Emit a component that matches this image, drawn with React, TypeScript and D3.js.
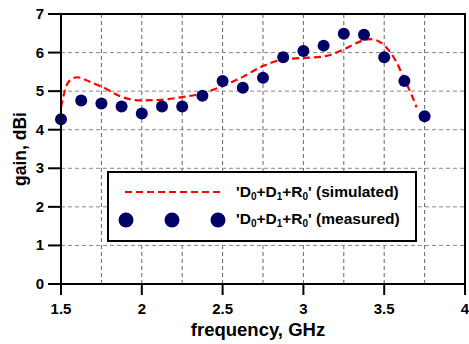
import React from 'react'
import * as d3 from 'd3'

// measured gain, every 0.125 GHz
const measFreq = [1.5, 1.625, 1.75, 1.875, 2.0, 2.125, 2.25, 2.375, 2.5, 2.625, 2.75, 2.875, 3.0, 3.125, 3.25, 3.375, 3.5, 3.625, 3.75]
const measGain = [4.27, 4.76, 4.68, 4.6, 4.42, 4.6, 4.6, 4.88, 5.26, 5.09, 5.35, 5.88, 6.04, 6.18, 6.49, 6.46, 5.88, 5.26, 4.35]

// simulated gain
const simFreq = [1.5, 1.53, 1.56, 1.6, 1.68, 1.76, 1.87, 1.99, 2.1, 2.24, 2.36, 2.5, 2.625, 2.75, 2.85, 2.95, 3.05, 3.13, 3.25, 3.33, 3.41, 3.47, 3.53, 3.58, 3.625, 3.67, 3.7]
const simGain = [4.58, 5.1, 5.3, 5.36, 5.24, 5.1, 4.86, 4.76, 4.77, 4.84, 4.93, 5.13, 5.37, 5.65, 5.8, 5.85, 5.87, 5.9, 6.08, 6.25, 6.35, 6.28, 6.05, 5.72, 5.3, 4.9, 4.58]

const xTicks = [1.5, 2, 2.5, 3, 3.5, 4]
const yTicks = [0, 1, 2, 3, 4, 5, 6, 7]
const xGrid = [1.75, 2, 2.25, 2.5, 2.75, 3, 3.25, 3.5, 3.75]
const yGrid = [1, 2, 3, 4, 5, 6]

const W = 469
const H = 344
const margin = { top: 14, right: 4, bottom: 60, left: 61 }
const font = 'Arial, "Liberation Sans", sans-serif'
const navy = '#000066'

function LegendText({ x, y, tail }: { x: number; y: number; tail: string }) {
  return (
    <text x={x} y={y} fontFamily={font} fontWeight="bold" fontSize={15.5} fill="#000">
      'D<tspan fontSize={10} dy={3}>0</tspan>
      <tspan dy={-3}>+D</tspan>
      <tspan fontSize={10} dy={3}>1</tspan>
      <tspan dy={-3}>+R</tspan>
      <tspan fontSize={10} dy={3}>0</tspan>
      <tspan dy={-3}>' {tail}</tspan>
    </text>
  )
}

export default function App() {
  const x = d3.scaleLinear().domain([1.5, 4]).range([margin.left, W - margin.right])
  const y = d3.scaleLinear().domain([0, 7]).range([H - margin.bottom, margin.top])

  const line = d3.line<number>()
    .x((_, i) => x(simFreq[i]))
    .y(d => y(d))
    .curve(d3.curveMonotoneX)

  const x0 = x(1.5)
  const x1 = x(4)
  const y0 = y(0)
  const y1 = y(7)

  return (
    <svg width={W} height={H} style={{ position: 'absolute', left: 0, top: 0, background: '#fff' }}>
      {/* grid */}
      {xGrid.map(v => (
        <line key={'gx' + v} x1={x(v)} x2={x(v)} y1={y1} y2={y0} stroke="#666" strokeWidth={1} strokeDasharray="4,3" />
      ))}
      {yGrid.map(v => (
        <line key={'gy' + v} x1={x0} x2={x1} y1={y(v)} y2={y(v)} stroke="#888" strokeWidth={1} strokeDasharray="4,3" />
      ))}

      {/* simulated curve */}
      <path d={line(simGain) || ''} fill="none" stroke="#ff0000" strokeWidth={2.2} strokeDasharray="7,4" />

      {/* measured points */}
      {measGain.map((g, i) => (
        <circle key={'m' + i} cx={x(measFreq[i])} cy={y(g)} r={6} fill={navy} />
      ))}

      {/* frame */}
      <rect x={x0} y={y1} width={x1 - x0} height={y0 - y1} fill="none" stroke="#000" strokeWidth={2} />

      {/* y ticks */}
      {yTicks.map(v => (
        <g key={'yt' + v}>
          <line x1={x0 - 13} x2={x0} y1={y(v)} y2={y(v)} stroke="#000" strokeWidth={2} />
          <text x={x0 - 17} y={y(v) + 5} textAnchor="end" fontFamily={font} fontWeight="bold" fontSize={15}>{v}</text>
        </g>
      ))}

      {/* x ticks */}
      {xTicks.map(v => (
        <g key={'xt' + v}>
          <line x1={x(v)} x2={x(v)} y1={y0} y2={y0 + 11} stroke="#000" strokeWidth={2} />
          <text x={x(v)} y={y0 + 30} textAnchor="middle" fontFamily={font} fontWeight="bold" fontSize={15}>{v}</text>
        </g>
      ))}

      {/* axis titles */}
      <text x={258} y={336} textAnchor="middle" fontFamily={font} fontWeight="bold" fontSize={18.5}>frequency, GHz</text>
      <text transform={`translate(26,${(y0 + y1) / 2}) rotate(-90)`} textAnchor="middle" fontFamily={font} fontWeight="bold" fontSize={17.5}>gain, dBi</text>

      {/* legend */}
      <rect x={108} y={172} width={308} height={69} fill="#fff" stroke="#000" strokeWidth={2} />
      <line x1={125} x2={220} y1={192} y2={192} stroke="#ff0000" strokeWidth={2.2} strokeDasharray="7,4" />
      {[126, 172, 218].map(cx => (
        <circle key={'lc' + cx} cx={cx} cy={220} r={7.5} fill={navy} />
      ))}
      <LegendText x={236} y={197} tail="(simulated)" />
      <LegendText x={236} y={224} tail="(measured)" />
    </svg>
  )
}
